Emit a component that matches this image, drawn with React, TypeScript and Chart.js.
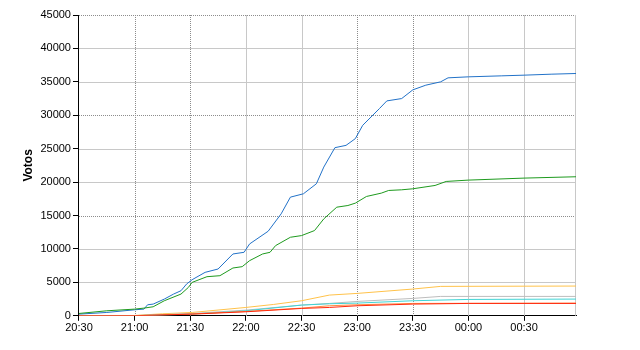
import React, { useEffect, useRef } from "react";
import { Chart, registerables } from "chart.js";

Chart.register(...registerables);

// minutes after 20:30
const blueTimes = [0, 15, 30, 35, 37, 40, 46, 51, 55, 58, 61, 68, 75, 83, 89, 92, 102, 109, 114, 121, 128, 132, 138, 144, 149, 153, 162, 166, 174, 180, 187, 195, 199, 210, 228, 240, 255, 268];
const blueVals = [250, 500, 900, 1000, 1650, 1750, 2500, 3250, 3750, 4750, 5400, 6500, 7000, 9250, 9500, 10750, 12650, 15250, 17750, 18250, 19750, 22250, 25150, 25500, 26500, 28500, 31000, 32150, 32500, 33800, 34500, 35000, 35600, 35750, 35900, 36000, 36150, 36250];

const greenTimes = [0, 15, 30, 35, 40, 46, 55, 59, 61, 69, 76, 83, 88, 92, 99, 103, 106, 114, 120, 127, 132, 139, 145, 149, 155, 163, 167, 174, 180, 192, 198, 210, 240, 268];
const greenVals = [350, 750, 1000, 1150, 1350, 2250, 3250, 4250, 5000, 5850, 6000, 7150, 7350, 8250, 9250, 9500, 10500, 11750, 12000, 12750, 14500, 16250, 16500, 16850, 17850, 18350, 18750, 18850, 19000, 19500, 20100, 20300, 20600, 20800];

const yellowTimes = [0, 30, 45, 61, 90, 105, 120, 135, 150, 180, 195, 268];
const yellowVals = [0, 50, 300, 500, 1250, 1700, 2250, 3100, 3350, 4000, 4400, 4450];

const grayTimes = [0, 30, 61, 90, 120, 135, 150, 180, 195, 268];
const grayVals = [0, 30, 350, 850, 1600, 1850, 2150, 2600, 2900, 2900];

const cyanTimes = [0, 30, 61, 90, 120, 135, 150, 180, 210, 268];
const cyanVals = [0, 20, 250, 750, 1600, 1800, 1900, 2250, 2450, 2500];

const orangeTimes = [0, 30, 61, 90, 120, 135, 150, 180, 268];
const orangeVals = [0, 20, 280, 650, 1150, 1500, 1650, 1850, 1900];

const redTimes = [0, 30, 61, 90, 120, 135, 150, 180, 210, 268];
const redVals = [0, 10, 250, 600, 1100, 1250, 1500, 1750, 1850, 1850];

const xTickValues = [0, 30, 60, 90, 120, 150, 180, 210, 240];
const xDottedTicks = [30, 60, 150, 180];
const yTickValues = [0, 5000, 10000, 15000, 20000, 25000, 30000, 35000, 40000, 45000];
const yDottedTicks = [15000, 30000, 45000];

const yTitle = "Votos";
const FONT = "'Liberation Sans', Arial, sans-serif";

function pts(t: number[], v: number[]) {
  return t.map((x, i) => ({ x, y: v[i] }));
}

function fmtTime(v: number) {
  const total = 20 * 60 + 30 + v;
  const h = Math.floor(total / 60) % 24;
  const m = total % 60;
  return String(h).padStart(2, "0") + ":" + String(m).padStart(2, "0");
}

const gridPlugin = {
  id: "customGrid",
  beforeDatasetsDraw(chart: any) {
    const { ctx, chartArea, scales } = chart;
    const xs = scales.x;
    const ys = scales.y;
    ctx.save();
    ctx.lineWidth = 1;
    const line = (x1: number, y1: number, x2: number, y2: number, dotted: boolean) => {
      ctx.beginPath();
      ctx.setLineDash(dotted ? [1, 1] : []);
      ctx.strokeStyle = dotted ? "#8c8c8c" : "#c8c8c8";
      ctx.moveTo(x1, y1);
      ctx.lineTo(x2, y2);
      ctx.stroke();
    };
    yTickValues.forEach((v) => {
      if (v === 0) return;
      const y = Math.round(ys.getPixelForValue(v)) + 0.5;
      line(chartArea.left, y, chartArea.right, y, yDottedTicks.includes(v));
    });
    xTickValues.forEach((v) => {
      if (v === 0) return;
      const x = Math.round(xs.getPixelForValue(v)) + 0.5;
      line(x, chartArea.top, x, chartArea.bottom, xDottedTicks.includes(v));
    });
    const xr = Math.round(chartArea.right) - 0.5;
    line(xr, chartArea.top, xr, chartArea.bottom, false);
    ctx.restore();
  },
};

export default function App() {
  const ref = useRef<HTMLCanvasElement>(null);
  useEffect(() => {
    if (!ref.current) return;
    const mk = (label: string, t: number[], v: number[], color: string) => ({
      label,
      data: pts(t, v),
      borderColor: color,
      backgroundColor: color,
      borderWidth: 1,
      pointRadius: 0,
      tension: 0,
      fill: false,
    });
    const chart = new Chart(ref.current, {
      type: "line",
      data: {
        datasets: [
          mk("red", redTimes, redVals, "#ff2a10"),
          mk("orange", orangeTimes, orangeVals, "#ff8a40"),
          mk("cyan", cyanTimes, cyanVals, "#40d4d4"),
          mk("gray", grayTimes, grayVals, "#bdbdbd"),
          mk("yellow", yellowTimes, yellowVals, "#ffc24a"),
          mk("green", greenTimes, greenVals, "#1e9a1e"),
          mk("blue", blueTimes, blueVals, "#2272c8"),
        ],
      },
      options: {
        animation: false,
        responsive: true,
        maintainAspectRatio: false,
        layout: { padding: { left: 21, right: 64, top: 15, bottom: 14 } },
        plugins: { legend: { display: false }, tooltip: { enabled: false } },
        scales: {
          x: {
            type: "linear",
            min: 0,
            max: 268,
            afterBuildTicks: (axis: any) => {
              axis.ticks = xTickValues.map((v) => ({ value: v }));
            },
            grid: { drawOnChartArea: false, drawTicks: true, tickLength: 5, tickColor: "#000" },
            border: { color: "#000", width: 1 },
            ticks: {
              color: "#000",
              font: { family: FONT, size: 11 },
              padding: 1,
              maxRotation: 0,
              autoSkip: false,
              callback: (v: any) => fmtTime(Number(v)),
            },
          },
          y: {
            min: 0,
            max: 45000,
            afterBuildTicks: (axis: any) => {
              axis.ticks = yTickValues.map((v) => ({ value: v }));
            },
            grid: { drawOnChartArea: false, drawTicks: true, tickLength: 6, tickColor: "#000" },
            border: { color: "#000", width: 1 },
            title: {
              display: true,
              text: yTitle,
              color: "#000",
              font: { family: FONT, size: 12, weight: "bold" },
              padding: { top: 0, bottom: 3 },
            },
            ticks: {
              color: "#000",
              font: { family: FONT, size: 11 },
              padding: 2,
              callback: (v: any) => String(v),
            },
          },
        },
      },
      plugins: [gridPlugin],
    });
    return () => chart.destroy();
  }, []);
  return (
    <div style={{ position: "absolute", left: 0, top: 0, width: 640, height: 350, background: "#fff" }}>
      <canvas ref={ref} />
    </div>
  );
}
